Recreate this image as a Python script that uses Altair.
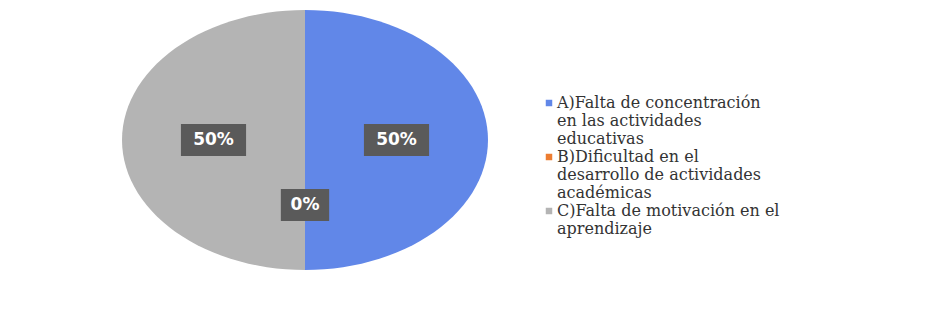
import altair as alt
import pandas as pd

# ---- data ----
categories = [
    "A)Falta de concentración en las actividades educativas",
    "B)Dificultad en el desarrollo de actividades académicas",
    "C)Falta de motivación en el aprendizaje",
]
values = [50, 0, 50]
percent_labels = ["50%", "0%", "50%"]
legend_lines = [
    ["A)Falta de concentración", "en las actividades", "educativas"],
    ["B)Dificultad en el", "desarrollo de actividades", "académicas"],
    ["C)Falta de motivación en el", "aprendizaje"],
]
colors = ["#6187E8", "#ED7D31", "#B4B4B4"]

pie_df = pd.DataFrame({
    "cat": categories,
    "value": values,
    "label": percent_labels,
    "order": list(range(len(categories))),
})

rows = []
sym_rows = []
r = 0
for i, lines in enumerate(legend_lines):
    sym_rows.append({"cat": categories[i], "row": r})
    for ln in lines:
        rows.append({"cat": categories[i], "text": ln, "row": r})
        r += 1
leg_text_df = pd.DataFrame(rows)
leg_sym_df = pd.DataFrame(sym_rows)

# ---- scales (elliptical pie: separate x / y pixel ranges) ----
xs = alt.Scale(domain=[-1, 1], range=[114, 480])
ys = alt.Scale(domain=[-1, 1], range=[262, 2])
ls = alt.Scale(domain=[0, 7], range=[95, 221])
cs = alt.Scale(domain=categories, range=colors)

base = (
    alt.Chart(pie_df)
    .transform_joinaggregate(total="sum(value)")
    .transform_window(cum="sum(value)", sort=[alt.SortField("order")], frame=[None, 0])
    .transform_calculate(
        a0="2*PI*(datum.cum-datum.value)/datum.total",
        a1="2*PI*datum.cum/datum.total",
    )
)

slices = (
    base.transform_calculate(steps="sequence(0, 62)")
    .transform_flatten(["steps"])
    .transform_calculate(
        ang="datum.a0 + (datum.a1-datum.a0)*(datum.steps-1)/60",
    )
    .transform_calculate(
        px="datum.steps==0 ? 0 : sin(datum.ang)",
        py="datum.steps==0 ? 0 : cos(datum.ang)",
    )
    .mark_line(filled=True, strokeWidth=0, interpolate="linear")
    .encode(
        x=alt.X("px:Q", scale=xs, axis=None),
        y=alt.Y("py:Q", scale=ys, axis=None),
        color=alt.Color("cat:N", scale=cs, legend=None),
        order=alt.Order("steps:Q"),
        detail="cat:N",
    )
)

lab = base.transform_calculate(
    mid="(datum.a0+datum.a1)/2",
).transform_calculate(
    lx="0.5*sin(datum.mid)",
    ly="0.5*cos(datum.mid)",
    hw="0.04+0.046*length(datum.label)",
).transform_calculate(
    lx0="datum.lx-datum.hw",
    lx1="datum.lx+datum.hw",
)

boxes = lab.mark_rect(color="#5A5A5A", yOffset=-16, y2Offset=16).encode(
    x=alt.X("lx0:Q", scale=xs, axis=None),
    x2="lx1:Q",
    y=alt.Y("ly:Q", scale=ys, axis=None),
    y2="ly:Q",
)

texts = lab.mark_text(
    color="white", font="DejaVu Sans", fontWeight="bold", fontSize=17
).encode(
    x=alt.X("lx:Q", scale=xs, axis=None),
    y=alt.Y("ly:Q", scale=ys, axis=None),
    text="label:N",
)

leg_sym = alt.Chart(leg_sym_df).mark_square(size=42, opacity=1).encode(
    x=alt.value(541),
    y=alt.Y("row:Q", scale=ls, axis=None),
    color=alt.Color("cat:N", scale=cs, legend=None),
)

leg_txt = alt.Chart(leg_text_df).mark_text(
    align="left", baseline="middle", font="DejaVu Serif", fontSize=16, color="#333333"
).encode(
    x=alt.value(549),
    y=alt.Y("row:Q", scale=ls, axis=None),
    text="text:N",
)

chart = (
    alt.layer(slices, boxes, texts, leg_sym, leg_txt)
    .resolve_scale(x="independent", y="independent")
    .properties(width=915, height=317, autosize=alt.AutoSizeParams(type="none"), padding=0, background="white")
    .configure_view(stroke=None)
)

chart.save("out.html", embed_options={"renderer": "svg", "actions": False})
